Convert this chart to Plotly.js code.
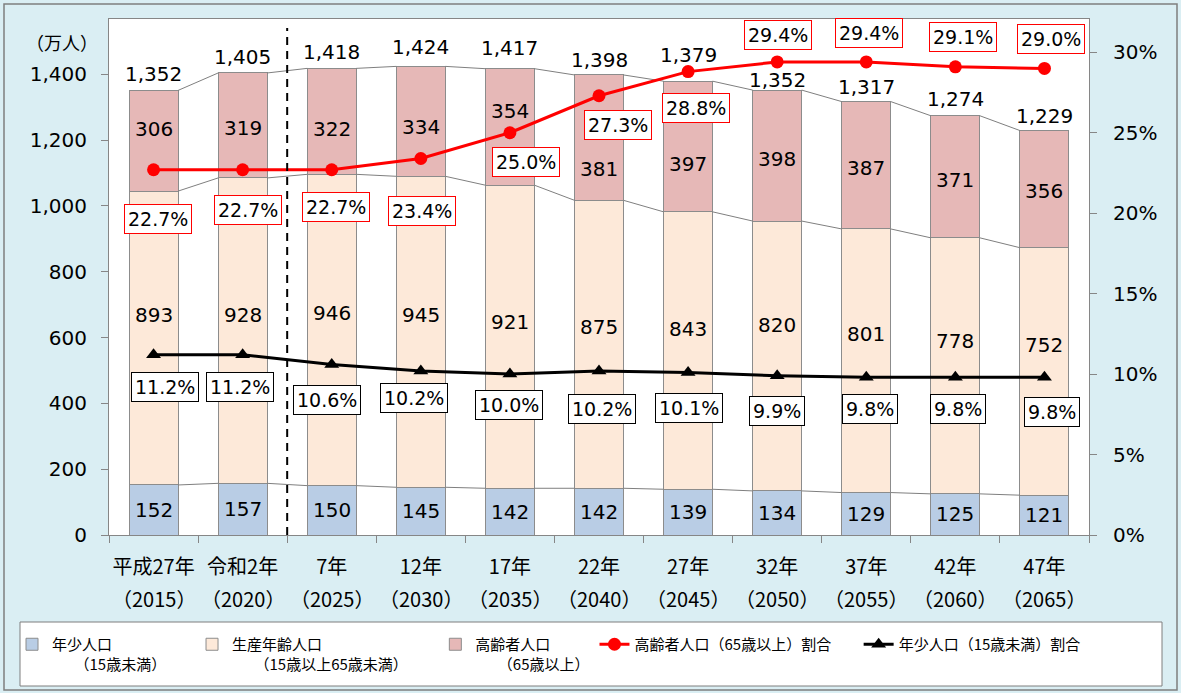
<!DOCTYPE html>
<html>
<head>
<meta charset="utf-8">
<script src="https://cdn.plot.ly/plotly-3.0.1.min.js"></script>
<style>html,body{margin:0;padding:0;background:#fff;}#chart{width:1181px;height:693px;}</style>
</head>
<body>
<div id="chart"></div>
<script>
// ---- data ----
const eraLabels  = ['平成27年','令和2年','7年','12年','17年','22年','27年','32年','37年','42年','47年'];
const yearLabels = ['（2015）','（2020）','（2025）','（2030）','（2035）','（2040）','（2045）','（2050）','（2055）','（2060）','（2065）'];
const youth   = [152,157,150,145,142,142,139,134,129,125,121];
const working = [893,928,946,945,921,875,843,820,801,778,752];
const elderly = [306,319,322,334,354,381,397,398,387,371,356];
const totals  = [1352,1405,1418,1424,1417,1398,1379,1352,1317,1274,1229];
const elderlyPct = [22.7,22.7,22.7,23.4,25.0,27.3,28.8,29.4,29.4,29.1,29.0];
const youthPct   = [11.2,11.2,10.6,10.2,10.0,10.2,10.1,9.9,9.8,9.8,9.8];
const leftTicks  = [0,200,400,600,800,1000,1200,1400];
const rightTicks = [0,5,10,15,20,25,30];

// ---- style (label offsets in pixels) ----
const redShiftY     = [-49,-40,-37,-52,-29,-29,-36,27,29,30,29];
const redShiftX     = [4,5,4,1,16,19,8,1,3,8,7];
const blackShiftY   = [-32,-32,-36,-27,-31,-38,-36,-35,-32,-32,-35];
const blackShiftX   = [11,-3,-5,-7,-1,3,1,0,4,3,8];
const elderlyShiftY = [12,-3,-8,-6,16,-31,-17,-3,-3,-3,-2];
const workingShiftY = [23,16,17,17,15,17,22,31,27,25,26];
const totalShiftY   = [16,16,16,19,21,15,26,10,15,17,15];
const BW = 0.55;
const FONT = 'DejaVu Sans, Noto Sans CJK JP, sans-serif';
const JFONT = '"Noto Sans CJK JP", "DejaVu Sans", sans-serif';

const idx = eraLabels.map((_, i) => i);
const cum1 = youth.slice();
const cum2 = youth.map((v, i) => v + working[i]);
const cum3 = cum2.map((v, i) => v + elderly[i]);

function connector(cum) {
  const xs = [], ys = [];
  for (let i = 0; i < cum.length - 1; i++) {
    xs.push(i + BW / 2, i + 1 - BW / 2, null);
    ys.push(cum[i], cum[i + 1], null);
  }
  return {x: xs, y: ys, type: 'scatter', mode: 'lines', line: {color: '#7F7F7F', width: 1},
          showlegend: false, hoverinfo: 'skip', cliponaxis: false};
}

const barLine = {color: '#8C8C8C', width: 1};
const traces = [
  {type: 'bar', x: idx, y: youth, width: BW, name: '年少人口　　　　　<br>　　（15歳未満）', marker: {color: '#B9CDE5', line: barLine}},
  {type: 'bar', x: idx, y: working, width: BW, name: '生産年齢人口<br>　　（15歳以上65歳未満）　　', marker: {color: '#FDE9D9', line: barLine}},
  {type: 'bar', x: idx, y: elderly, width: BW, name: '高齢者人口<br>　　（65歳以上）', marker: {color: '#E6B8B7', line: barLine}},
  connector(cum1), connector(cum2), connector(cum3),
  {type: 'scatter', mode: 'lines+markers', x: idx, y: elderlyPct, yaxis: 'y2', name: '高齢者人口（65歳以上）割合　\u2002',
   line: {color: '#FF0000', width: 3}, marker: {symbol: 'circle', size: 13, color: '#FF0000'}, cliponaxis: false},
  {type: 'scatter', mode: 'lines+markers', x: idx, y: youthPct, yaxis: 'y2', name: '年少人口（15歳未満）割合',
   line: {color: '#000000', width: 3}, marker: {symbol: 'triangle-up', size: 13, color: '#000000'}, cliponaxis: false}
];

const W = 1181, H = 693, ML = 109, MR = 92, MT = 19, MB = 158;
const PW = W - ML - MR, PH = H - MT - MB;
const px = v => (v - ML) / PW;
const py = v => (H - MB - v) / PH;

const valFont = {family: FONT, size: 20, color: '#000'};
const pctFont = {family: FONT, size: 19, color: '#000'};
const annotations = [];
idx.forEach(i => {
  annotations.push({x: i, y: youth[i] / 2, text: String(youth[i]), showarrow: false, font: valFont});
  annotations.push({x: i, y: cum1[i] + working[i] / 2, yshift: workingShiftY[i], text: String(working[i]), showarrow: false, font: valFont});
  annotations.push({x: i, y: cum2[i] + elderly[i] / 2, yshift: elderlyShiftY[i], text: String(elderly[i]), showarrow: false, font: valFont});
  annotations.push({x: i, y: cum3[i], yanchor: 'middle', yshift: totalShiftY[i], text: totals[i].toLocaleString('en-US'), showarrow: false, font: valFont});
  annotations.push({x: i, y: elderlyPct[i], yref: 'y2', xshift: redShiftX[i], yshift: redShiftY[i], text: elderlyPct[i].toFixed(1) + '%',
    showarrow: false, bgcolor: '#FFFFFF', bordercolor: '#FF0000', borderwidth: 1, borderpad: 3, font: pctFont});
  annotations.push({x: i, y: youthPct[i], yref: 'y2', xshift: blackShiftX[i], yshift: blackShiftY[i], text: youthPct[i].toFixed(1) + '%',
    showarrow: false, bgcolor: '#FFFFFF', bordercolor: '#000000', borderwidth: 1, borderpad: 3, font: pctFont});
  annotations.push({x: i, xref: 'x', yref: 'paper', y: py(598), xanchor: 'center', yanchor: 'middle', text: yearLabels[i], showarrow: false,
    font: {family: JFONT, size: 20, color: '#000'}});
});
annotations.push({xref: 'paper', yref: 'paper', x: px(62), y: py(42), xanchor: 'center', yanchor: 'middle', text: '（万人）', showarrow: false,
  font: {family: JFONT, size: 18, color: '#000'}});

const layout = {
  width: W, height: H, autosize: false,
  margin: {l: ML, r: MR, t: MT, b: MB, pad: 0},
  paper_bgcolor: '#DAEEF3', plot_bgcolor: '#FFFFFF',
  barmode: 'stack', bargap: 0,
  font: {family: FONT, color: '#000'},
  xaxis: {range: [-0.5, 10.5], tickmode: 'array', tickvals: idx, ticktext: eraLabels, ticks: '',
          tickfont: {family: JFONT, size: 20, color: '#000'}, ticklabelstandoff: 14,
          showline: true, linecolor: '#868686', linewidth: 1, mirror: true, showgrid: false, zeroline: false,
          minor: {tickmode: 'array', tickvals: idx.concat([idx.length]).map(i => i - 0.5), ticks: 'outside', ticklen: 7, tickcolor: '#868686', tickwidth: 1, showgrid: false}},
  yaxis: {range: [0, 1568], tickmode: 'array', tickvals: leftTicks, tickformat: ',d', ticks: 'outside', ticklen: 7, tickcolor: '#868686',
          tickfont: {family: FONT, size: 20, color: '#000'}, ticklabelstandoff: 10,
          showline: true, linecolor: '#868686', linewidth: 1, showgrid: false, zeroline: false},
  yaxis2: {overlaying: 'y', side: 'right', range: [0, 32.07], tickmode: 'array', tickvals: rightTicks, ticktext: rightTicks.map(v => v + '%'),
          ticks: 'outside', ticklen: 7, tickcolor: '#868686', tickfont: {family: FONT, size: 20, color: '#000'}, ticklabelstandoff: 12,
          showline: true, linecolor: '#868686', linewidth: 1, showgrid: false, zeroline: false},
  legend: {orientation: 'h', x: px(12), y: py(628), xanchor: 'left', yanchor: 'top', traceorder: 'normal', valign: 'top',
           bgcolor: 'rgba(0,0,0,0)', font: {family: JFONT, size: 15, color: '#000'}, itemwidth: 30},
  shapes: [
    {type: 'rect', xref: 'paper', yref: 'paper', x0: px(20), x1: px(1162), y0: py(686), y1: py(622), fillcolor: '#FFFFFF', line: {color: '#7F7F7F', width: 1}, layer: 'below'},
    {type: 'rect', xref: 'paper', yref: 'paper', x0: px(4), x1: px(1177), y0: py(690), y1: py(4), line: {color: '#7F7F7F', width: 1.5}},
    {type: 'line', xref: 'x', yref: 'paper', x0: 1.5, x1: 1.5, y0: 0, y1: py(28), line: {color: '#000', width: 2, dash: '8px,6px'}}
  ],
  annotations: annotations
};

Plotly.newPlot('chart', traces, layout, {displayModeBar: false, staticPlot: true});
</script>
</body>
</html>
